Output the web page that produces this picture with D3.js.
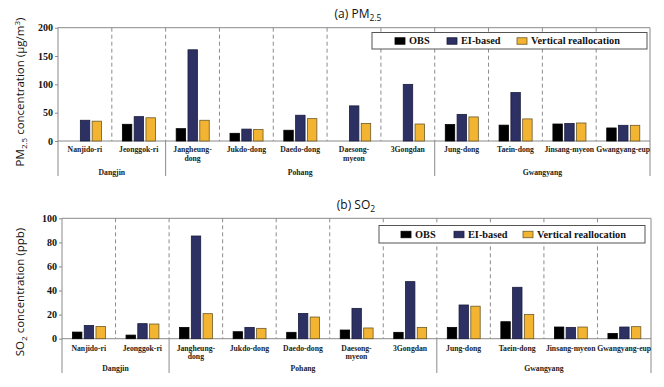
<!DOCTYPE html>
<html><head><meta charset="utf-8">
<script src="https://cdn.jsdelivr.net/npm/d3@7"></script>
<style>body{margin:0;background:#fff}svg{display:block}</style>
</head><body>
<svg id="c" width="664" height="387"></svg>
<script>
const stations = ["Nanjido-ri","Jeonggok-ri","Jangheung-dong","Jukdo-dong","Daedo-dong","Daesong-myeon","3Gongdan","Jung-dong","Taein-dong","Jinsang-myeon","Gwangyang-eup"];
const stationLines = [["Nanjido-ri"],["Jeonggok-ri"],["Jangheung-","dong"],["Jukdo-dong"],["Daedo-dong"],["Daesong-","myeon"],["3Gongdan"],["Jung-dong"],["Taein-dong"],["Jinsang-myeon"],["Gwangyang-eup"]];
const regions = ["Dangjin","Pohang","Gwangyang"];
const regionStart = [0,2,7];
const regionEnd = [1,6,10];
const series = ["OBS","EI-based","Vertical reallocation"];
const colors = ["#000000","#2d3063","#f3b431"];
const strokes = ["#000000","#1a1c3c","#6b5a2a"];

const pm25_obs = [0,29.5,21.8,13.6,19,0,0,29,28,30,23];
const pm25_ei = [36.6,43,161,21,45.5,62,100,47,85.5,31,27.7];
const pm25_vr = [35,41,36.6,20.4,39.5,31,30,42.5,39,31.8,27.7];
const pm25_ticks = [0,50,100,150,200];

const so2_obs = [5.5,3,9.4,5.8,5.3,7.2,5.3,9.4,14.1,9.7,4.4];
const so2_ei = [11,12.5,85.3,9.4,21,25.2,47.4,28,42.7,9.4,9.7];
const so2_vr = [10.2,12.2,20.8,8.6,18,8.9,9.4,27,20.2,9.7,10];
const so2_ticks = [0,20,40,60,80,100];

const svg = d3.select("#c");

function drawPanel(p){
  const g = svg.append("g");
  const x = d3.scaleBand().domain(stations).range([p.x0,p.x1]).padding(0);
  const cw = x.bandwidth();
  const xi = d3.scaleBand().domain(series).range([cw*0.196, cw*0.81]).paddingInner(0.2);
  const y = d3.scaleLinear().domain([0,p.ticks[p.ticks.length-1]]).range([p.yb,p.yt]);
  const gray = "#8a8a8a";
  stations.slice(1).forEach(s=>{
    g.append("line").attr("x1",x(s)).attr("x2",x(s)).attr("y1",y.range()[1]).attr("y2",p.yb)
     .attr("stroke","#8c8c8c").attr("stroke-width",1).attr("stroke-dasharray","4,3");
  });
  g.append("line").attr("x1",p.x0).attr("x2",p.x1).attr("y1",p.yt).attr("y2",p.yt).attr("stroke",gray);
  g.append("line").attr("x1",p.x1).attr("x2",p.x1).attr("y1",p.yt).attr("y2",p.ybot).attr("stroke",gray);
  g.append("line").attr("x1",p.x0).attr("x2",p.x0).attr("y1",p.yt).attr("y2",p.ybot).attr("stroke",gray);
  g.append("line").attr("x1",p.x0).attr("x2",p.x1).attr("y1",p.yb).attr("y2",p.yb).attr("stroke",gray);
  regionStart.slice(1).forEach(i=>{
    g.append("line").attr("x1",x(stations[i])).attr("x2",x(stations[i])).attr("y1",p.yb).attr("y2",p.ybot).attr("stroke",gray);
  });
  const vals = [p.obs,p.ei,p.vr];
  series.forEach((s,k)=>{
    g.append("g").selectAll("rect").data(stations.map((st,i)=>({st,v:vals[k][i]})).filter(d=>d.v>0))
     .join("rect")
     .attr("x",d=>x(d.st)+xi(s)).attr("width",xi.bandwidth())
     .attr("y",d=>y(d.v)).attr("height",d=>p.yb-y(d.v))
     .attr("fill",colors[k]).attr("stroke",strokes[k]).attr("stroke-width",0.8);
  });
  const ax = g.append("g").attr("transform",`translate(${p.x0},0)`)
    .call(d3.axisLeft(y).tickValues(p.ticks).tickSize(3).tickSizeOuter(0).tickPadding(2));
  ax.select(".domain").remove();
  ax.selectAll(".tick line").attr("stroke",gray);
  ax.selectAll(".tick text").attr("font-family","'Liberation Serif',serif").attr("font-weight","bold").attr("font-size","10px").attr("fill","#111");
  stations.forEach((s,i)=>{
    const t = g.append("text").attr("x",x(s)+cw/2).attr("y",p.lab1).attr("text-anchor","middle")
      .attr("font-family","'Liberation Serif',serif").attr("font-weight","bold").attr("font-size","7.7px").attr("fill","#222");
    stationLines[i].forEach((ln,j)=>t.append("tspan").attr("x",x(s)+cw/2).attr("dy",j?8.6:0).text(ln));
  });
  regions.forEach((r,i)=>{
    const cx = (x(stations[regionStart[i]]) + x(stations[regionEnd[i]])+cw)/2;
    g.append("text").attr("x",cx).attr("y",p.labR).attr("text-anchor","middle")
      .attr("font-family","'Liberation Serif',serif").attr("font-weight","bold").attr("font-size","7.7px").attr("fill","#222").text(r);
  });
  const yt = g.append("text").attr("transform",`translate(${p.ytx},${p.yty}) rotate(-90)`).attr("text-anchor","middle")
    .attr("font-family","'Open Sans',sans-serif").attr("font-size","11.5px").attr("fill","#111");
  p.ytitle(yt);
  const tt = g.append("text").attr("x",p.tx).attr("y",p.ty).attr("text-anchor","middle")
    .attr("font-family","'Open Sans',sans-serif").attr("font-size","12px").attr("fill","#111");
  p.title(tt);
  const L = p.leg;
  g.append("rect").attr("x",L.x).attr("y",L.y).attr("width",L.w).attr("height",L.h).attr("fill","#fff").attr("stroke","#555").attr("stroke-width",1);
  series.forEach((s,k)=>{
    g.append("rect").attr("x",L.sx[k]).attr("y",L.y+L.h/2-3).attr("width",10).attr("height",6.5)
      .attr("fill",colors[k]).attr("stroke",strokes[k]).attr("stroke-width",0.8);
    g.append("text").attr("x",L.sx[k]+14).attr("y",L.y+L.h/2+3.6)
      .attr("font-family","'Liberation Serif',serif").attr("font-weight","bold").attr("font-size","10.3px").attr("fill","#111").text(s);
  });
}

drawPanel({x0:58,x1:650,yt:27.7,yb:141,ybot:176,lab1:152,labR:175,ticks:pm25_ticks,
  obs:pm25_obs,ei:pm25_ei,vr:pm25_vr,ytx:24,yty:92,tx:358,ty:18,
  leg:{x:372,y:32.5,w:275,h:16.5,sx:[395,447,517]},
  ytitle:t=>{t.append("tspan").text("PM");t.append("tspan").attr("font-size","8px").attr("dy",3).text("2.5");
    t.append("tspan").attr("dy",-3).text(" concentration (μg/m");t.append("tspan").attr("font-size","8px").attr("dy",-4).text("3");t.append("tspan").attr("dy",4).text(")");},
  title:t=>{t.append("tspan").text("(a) PM");t.append("tspan").attr("font-size","8.5px").attr("dy",3).text("2.5");}
});
drawPanel({x0:62,x1:651,yt:218.3,yb:338.7,ybot:373,lab1:350.5,labR:371,ticks:so2_ticks,
  obs:so2_obs,ei:so2_ei,vr:so2_vr,ytx:24,yty:292,tx:356,ty:209,
  leg:{x:379,y:225.5,w:266,h:17.5,sx:[401,454,523]},
  ytitle:t=>{t.append("tspan").text("SO");t.append("tspan").attr("font-size","8px").attr("dy",3).text("2");
    t.append("tspan").attr("dy",-3).text(" concentration (ppb)");},
  title:t=>{t.append("tspan").text("(b) SO");t.append("tspan").attr("font-size","8.5px").attr("dy",3).text("2");}
});
</script>
</body></html>
